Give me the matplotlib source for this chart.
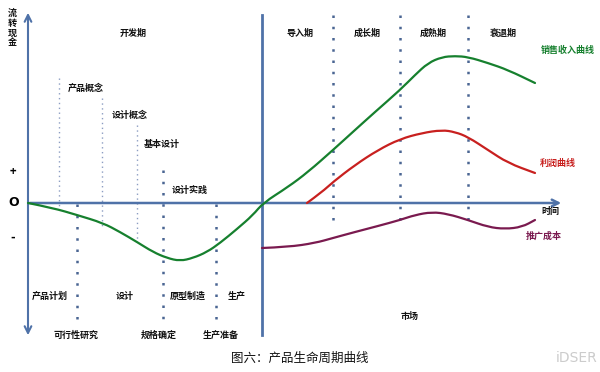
import matplotlib
matplotlib.use("Agg")
import matplotlib.pyplot as plt
from matplotlib.path import Path
from matplotlib.patches import PathPatch

plt.rcParams['font.family'] = ['Noto Sans CJK SC', 'DejaVu Sans']

# curves (x = time, y = cash, in pixel units of the image)
sales_x = [28, 53, 77, 103, 120, 137, 153, 167, 180, 193, 207, 220, 237, 253, 263,
           288, 308, 333, 355, 375, 400, 415, 428, 442, 455, 468, 488, 508, 535]
sales_y = [203, 208, 215, 223, 232, 242, 252, 258, 261, 258, 252, 243, 229, 215, 203,
           187, 172, 150, 130, 112, 90, 75, 63, 57, 56, 57, 63, 70, 83]
profit_x = [307, 322, 333, 355, 378, 400, 422, 442, 455, 468, 488, 508, 535]
profit_y = [203, 192, 182, 165, 150, 139, 133, 130, 132, 137, 150, 163, 173]
promo_x = [262, 288, 315, 333, 355, 378, 400, 415, 432, 448, 468, 488, 505, 522, 535]
promo_y = [248, 247, 243, 238, 232, 226, 220, 215, 212, 214, 220, 227, 229, 227, 220]

stages = ['开发期', '导入期', '成长期', '成熟期', '衰退期']
stage_x = [133, 300, 367, 433, 503]
upper_tasks = ['产品概念', '设计概念', '基本设计', '设计实践']
upper_xy = [(86, 88), (130, 115), (162, 145), (190, 190)]
lower_tasks = ['产品计划', '设计', '原型制造', '生产', '可行性研究', '规格确定', '生产准备']
lower_xy = [(50, 296), (125, 296), (188, 296), (237, 296), (76, 335), (159, 335), (221, 335)]

axis_c = '#4f72a8'
dot_c = '#4a6593'
light_c = '#8c9dc2'


def smooth(ax, xs, ys, color):
    pts = list(zip(xs, ys))
    verts = [pts[0]]
    codes = [Path.MOVETO]
    for i in range(1, len(pts) - 1):
        mid = ((pts[i][0] + pts[i + 1][0]) / 2, (pts[i][1] + pts[i + 1][1]) / 2)
        verts += [pts[i], mid]
        codes += [Path.CURVE3, Path.CURVE3]
    verts.append(pts[-1])
    codes.append(Path.LINETO)
    ax.add_patch(PathPatch(Path(verts, codes), fill=False, edgecolor=color, lw=1.6,
                           capstyle='round', zorder=4))


fig = plt.figure(figsize=(6, 3.72), dpi=100)
ax = fig.add_axes([0, 0, 1, 1])
ax.set_xlim(0, 600)
ax.set_ylim(372, 0)
ax.axis('off')

# light dotted lines (concepts)
for x, y0, y1 in [(59, 78, 206), (102, 98, 228), (137, 125, 240)]:
    ax.plot([x, x], [y0, y1], color=light_c, lw=1, ls=(0, (1, 2.5)), zorder=2)
# bold dotted lines
for x, y0, y1 in [(77, 204, 322), (163, 170, 322), (216, 204, 322),
                  (333, 15, 228), (400, 15, 228), (468, 15, 228)]:
    ax.plot([x, x], [y0, y1], color=dot_c, lw=1.8, ls=(0, (1, 3.5)), zorder=2)

# axes
ax.annotate('', xy=(28, 10), xytext=(28, 338),
            arrowprops=dict(arrowstyle='<->', color=axis_c, lw=1.5, mutation_scale=12))
ax.annotate('', xy=(564, 203), xytext=(27, 203),
            arrowprops=dict(arrowstyle='->', color=axis_c, lw=1.8, mutation_scale=12))
ax.plot([262, 262], [15, 335], color=axis_c, lw=2, zorder=3)

smooth(ax, sales_x, sales_y, '#16802e')
smooth(ax, profit_x, profit_y, '#c8201f')
smooth(ax, promo_x, promo_y, '#7a1a4f')

bold = dict(fontsize=6.5, fontweight='bold', ha='center', va='center', color='#111111')
for s, x in zip(stages, stage_x):
    ax.text(x, 33, s, **bold)
for s, (x, y) in zip(upper_tasks, upper_xy):
    ax.text(x, y, s, **bold)
for s, (x, y) in zip(lower_tasks, lower_xy):
    ax.text(x, y, s, **bold)
ax.text(410, 316, '市场', **bold)
ax.text(550, 211, '时间', **bold)
for i, ch in enumerate('流转现金'):
    ax.text(12, 13 + i * 10, ch, **bold)

ax.text(568, 50, '销售收入曲线', fontsize=6.5, fontweight='bold', ha='center', va='center', color='#16802e')
ax.text(558, 163, '利润曲线', fontsize=6.5, fontweight='bold', ha='center', va='center', color='#c8201f')
ax.text(544, 236, '推广成本', fontsize=6.5, fontweight='bold', ha='center', va='center', color='#7a1a4f')

ax.text(13, 171, '+', fontsize=8, fontweight='bold', ha='center', va='center')
ax.text(14, 203, 'O', fontsize=9, fontweight='bold', ha='center', va='center', family='DejaVu Sans')
ax.text(13, 237, '-', fontsize=9, fontweight='bold', ha='center', va='center')

ax.text(300, 358, '图六：产品生命周期曲线', fontsize=9, ha='center', va='center', color='#111111')
ax.text(577, 358, 'iDSER', fontsize=10, ha='center', va='center', color='#cccccc', family='DejaVu Sans')

fig.savefig('out.png', dpi=100)
